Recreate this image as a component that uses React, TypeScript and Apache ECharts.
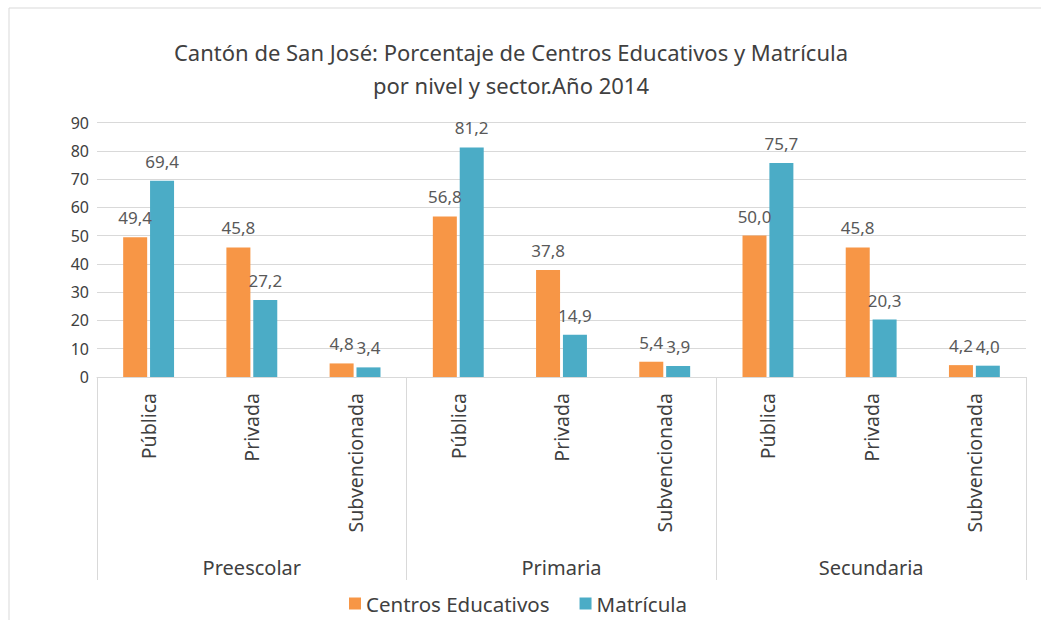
import React, { useEffect, useRef } from "react";
import * as echarts from "echarts";

const categories = [
  "Pública", "Privada", "Subvencionada",
  "Pública", "Privada", "Subvencionada",
  "Pública", "Privada", "Subvencionada",
];
const groups = ["Preescolar", "Primaria", "Secundaria"];
const centros = [49.4, 45.8, 4.8, 56.8, 37.8, 5.4, 50.0, 45.8, 4.2];
const matricula = [69.4, 27.2, 3.4, 81.2, 14.9, 3.9, 75.7, 20.3, 4.0];
const yTicks = { min: 0, max: 90, interval: 10 };

const FONT = "'Noto Sans', sans-serif";
const fmt = (p: any) => Number(p.value).toFixed(1).replace(".", ",");

export default function App() {
  const ref = useRef<HTMLDivElement>(null);
  useEffect(() => {
    if (!ref.current) return;
    const chart = echarts.init(ref.current, null, { renderer: "svg" });
    chart.setOption({
      animation: false,
      backgroundColor: "#ffffff",
      textStyle: { fontFamily: FONT },
      title: {
        text: "Cantón de San José: Porcentaje de Centros Educativos y Matrícula\npor nivel y sector.Año 2014",
        left: 511,
        top: 35,
        padding: 0,
        textAlign: "center",
        textStyle: {
          fontFamily: FONT,
          fontSize: 22,
          fontWeight: "normal",
          color: "#404040",
          lineHeight: 33,
        },
      },
      graphic: [
        {
          type: "rect",
          shape: { x: 9, y: 8, width: 1200, height: 800 },
          style: { fill: "none", stroke: "#d9d9d9", lineWidth: 1 },
          silent: true,
        },
      ],
      legend: {
        left: 344,
        top: 588,
        itemWidth: 12,
        itemHeight: 12,
        itemGap: 30,
        icon: "rect",
        textStyle: { fontFamily: FONT, fontSize: 20.5, color: "#404040" },
        data: ["Centros Educativos", "Matrícula"],
      },
      grid: { left: 97, right: 15, top: 122.5, bottom: 243 },
      xAxis: [
        {
          type: "category",
          data: categories,
          position: "bottom",
          axisLine: { show: true, lineStyle: { color: "#d9d9d9" } },
          axisTick: { show: false },
          axisLabel: {
            rotate: 90,
            margin: 16,
            interval: 0,
            fontFamily: FONT,
            fontSize: 19.5,
            color: "#404040",
          },
        },
        {
          type: "category",
          data: groups,
          position: "bottom",
          offset: 0,
          axisLine: { show: false },
          axisTick: {
            show: true,
            length: 203,
            lineStyle: { color: "#d9d9d9" },
          },
          axisLabel: {
            margin: 180,
            interval: 0,
            fontFamily: FONT,
            fontSize: 20,
            color: "#404040",
          },
        },
      ],
      yAxis: {
        type: "value",
        min: yTicks.min,
        max: yTicks.max,
        interval: yTicks.interval,
        axisLine: { show: false },
        axisTick: { show: false },
        splitLine: { lineStyle: { color: "#d9d9d9" } },
        axisLabel: { fontFamily: FONT, fontSize: 16, color: "#404040", margin: 8 },
      },
      series: [
        {
          name: "Centros Educativos",
          type: "bar",
          xAxisIndex: 0,
          data: centros,
          barWidth: 24,
          barGap: "12%",
          itemStyle: { color: "#f79646" },
          label: {
            show: true,
            position: "top",
            distance: 11,
            formatter: fmt,
            fontFamily: FONT,
            fontSize: 17,
            color: "#595959",
          },
        },
        {
          name: "Matrícula",
          type: "bar",
          xAxisIndex: 0,
          data: matricula,
          barWidth: 24,
          barGap: "12%",
          itemStyle: { color: "#4bacc6" },
          label: {
            show: true,
            position: "top",
            distance: 11,
            formatter: fmt,
            fontFamily: FONT,
            fontSize: 17,
            color: "#595959",
          },
        },
      ],
    });
    return () => chart.dispose();
  }, []);
  return (
    <div
      ref={ref}
      style={{ position: "fixed", left: 0, top: 0, width: 1041, height: 620 }}
    />
  );
}
